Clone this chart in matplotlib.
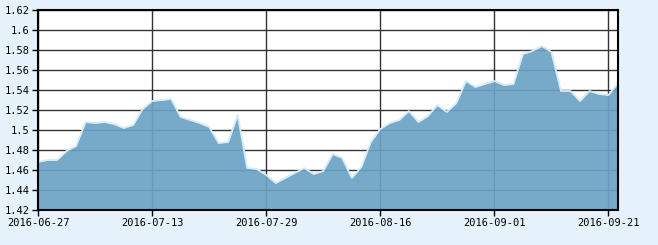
import numpy as np
import matplotlib.pyplot as plt

dates = ['2016-06-27', '2016-06-28', '2016-06-29', '2016-06-30',
         '2016-07-01', '2016-07-04', '2016-07-05', '2016-07-06', '2016-07-07', '2016-07-08',
         '2016-07-11', '2016-07-12', '2016-07-13', '2016-07-14', '2016-07-15',
         '2016-07-18', '2016-07-19', '2016-07-20', '2016-07-21', '2016-07-22',
         '2016-07-25', '2016-07-26', '2016-07-27', '2016-07-28', '2016-07-29',
         '2016-08-01', '2016-08-02', '2016-08-03', '2016-08-04', '2016-08-05',
         '2016-08-08', '2016-08-09', '2016-08-10', '2016-08-11', '2016-08-12',
         '2016-08-15', '2016-08-16', '2016-08-17', '2016-08-18', '2016-08-19',
         '2016-08-22', '2016-08-23', '2016-08-24', '2016-08-25', '2016-08-26',
         '2016-08-29', '2016-08-30', '2016-08-31', '2016-09-01', '2016-09-02',
         '2016-09-05', '2016-09-06', '2016-09-07', '2016-09-08', '2016-09-09',
         '2016-09-12', '2016-09-13', '2016-09-14',
         '2016-09-19', '2016-09-20', '2016-09-21', '2016-09-22']

nav = [1.468, 1.470, 1.470, 1.479, 1.484, 1.508, 1.507, 1.508, 1.506, 1.502,
       1.505, 1.521, 1.529, 1.530, 1.531, 1.513, 1.510, 1.507, 1.503, 1.487,
       1.488, 1.515, 1.462, 1.461, 1.455, 1.447, 1.452, 1.457, 1.462, 1.456,
       1.459, 1.476, 1.472, 1.452, 1.463, 1.488, 1.501, 1.507, 1.510, 1.519,
       1.508, 1.514, 1.525, 1.518, 1.527, 1.549, 1.543, 1.546, 1.549, 1.545,
       1.546, 1.576, 1.579, 1.584, 1.578, 1.539, 1.539, 1.529, 1.539, 1.536,
       1.535, 1.547]

shown_dates = ['2016-06-27', '2016-07-13', '2016-07-29', '2016-08-16', '2016-09-01', '2016-09-21']
y_ticks = [1.42, 1.44, 1.46, 1.48, 1.5, 1.52, 1.54, 1.56, 1.58, 1.6, 1.62]

bg = '#e5f2fb'
fig = plt.figure(figsize=(6.58, 2.45), dpi=100, facecolor=bg)
ax = fig.add_axes([38/658, 1 - 210/245, 580/658, 200/245])

x = np.arange(len(nav))
ax.fill_between(x, 1.42, nav, color='#6aa3c4', alpha=0.92, lw=0, zorder=2)
ax.plot(x, nav, color='#d6ebf8', lw=1.3, zorder=3)

ax.set_xlim(0, len(nav) - 1)
ax.set_ylim(1.42, 1.62)

ax.set_yticks(y_ticks)
ax.set_yticklabels([f'{v:g}' for v in y_ticks])
ax.set_xticks([dates.index(d) for d in shown_dates])
ax.set_xticklabels(shown_dates)

ax.grid(True, color='#333333', lw=1)
ax.set_axisbelow(True)
for s in ax.spines.values():
    s.set_color('black')
    s.set_linewidth(1.5)
    s.set_zorder(4)

ax.tick_params(length=4, width=1, color='black', labelsize=7.5, pad=2)
for lab in ax.get_xticklabels() + ax.get_yticklabels():
    lab.set_family('DejaVu Sans Mono')

fig.savefig('out.png', dpi=100, facecolor=bg)
